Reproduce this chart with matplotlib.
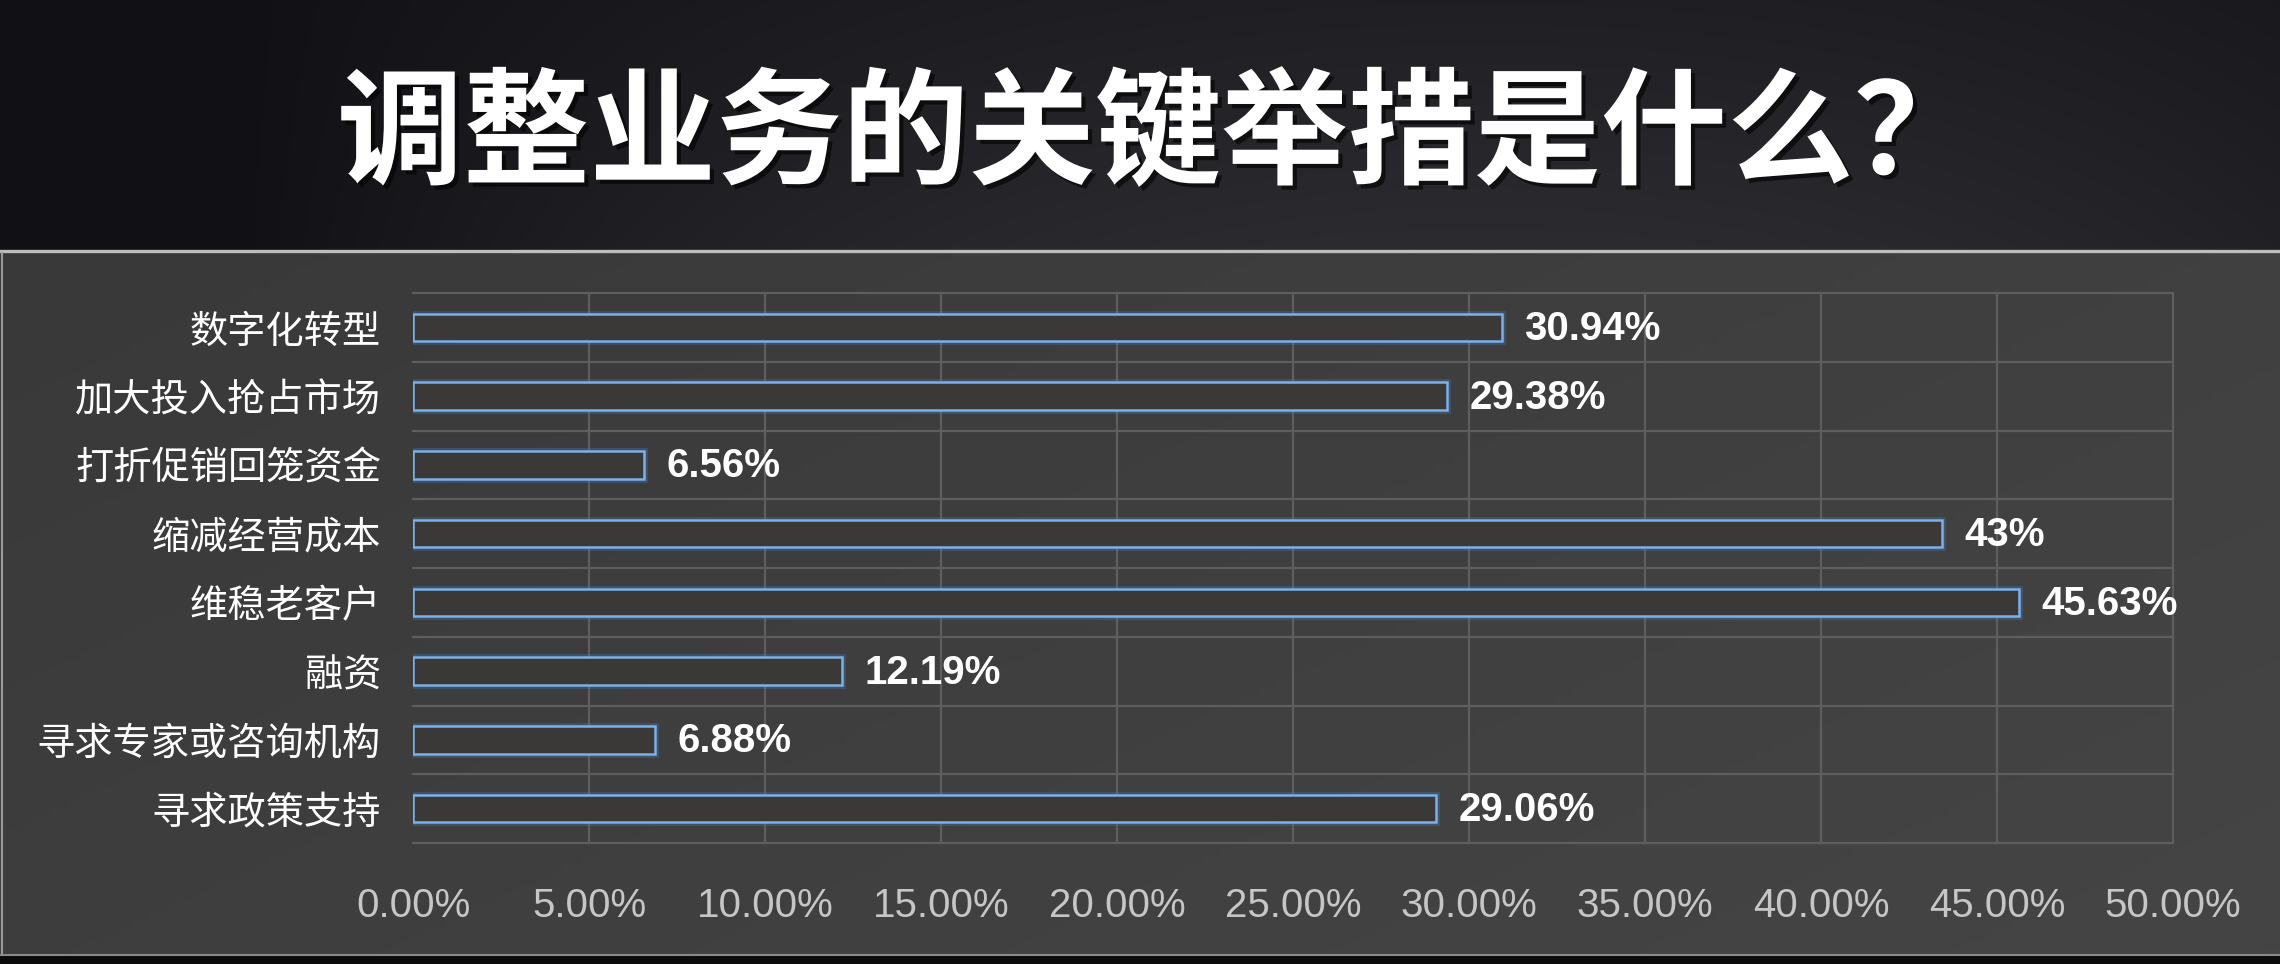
import numpy as np
import matplotlib
matplotlib.use("Agg")
import matplotlib.pyplot as plt
import matplotlib.patheffects as pe
from matplotlib.colors import LinearSegmentedColormap

# --- data ---
title = "调整业务的关键举措是什么？"
categories = ["数字化转型", "加大投入抢占市场", "打折促销回笼资金", "缩减经营成本",
              "维稳老客户", "融资", "寻求专家或咨询机构", "寻求政策支持"]
values = [30.94, 29.38, 6.56, 43.44, 45.63, 12.19, 6.88, 29.06]
value_labels = ["30.94%", "29.38%", "6.56%", "43%", "45.63%", "12.19%", "6.88%", "29.06%"]
x_ticks = [0, 5, 10, 15, 20, 25, 30, 35, 40, 45, 50]
x_tick_labels = [f"{t:.2f}%" for t in x_ticks]

CJK = ["Noto Sans CJK SC", "DejaVu Sans"]
LATIN = ["Liberation Sans", "DejaVu Sans"]

W, H = 2280, 964
fig = plt.figure(figsize=(W / 100, H / 100), dpi=100)
fig.patch.set_facecolor("#0b0b0b")

# --- title band: dark gradient, lighter towards centre-bottom ---
band = fig.add_axes([0, 1 - 250 / H, 1, 250 / H])
band.set_axis_off()
gx = np.linspace(0, 1, 400)
gy = np.linspace(0, 1, 100)
GX, GY = np.meshgrid(gx, gy)
band_cmap = LinearSegmentedColormap.from_list("band", ["#111115", "#2c2c30"])
shade = np.clip(1 - ((GX - 0.65) / 0.55) ** 2, 0, 1) * (0.55 + 0.45 * GY)
band.imshow(shade, cmap=band_cmap, aspect="auto", extent=[0, 1, 0, 1], origin="upper")
band.set_xlim(0, 1)
band.set_ylim(0, 1)

# separator line
fig.add_artist(plt.Line2D([0, 1], [1 - 251 / H, 1 - 251 / H], color="#bdbdbd",
                          lw=2.4, transform=fig.transFigure))

# --- chart panel ---
panel = fig.add_axes([0, 1 - 955 / H, 1, (955 - 253) / H])
panel.set_axis_off()
panel_cmap = LinearSegmentedColormap.from_list("panel", ["#393939", "#454545"])
panel.imshow(0.6 * GX + 0.4 * (1 - GY), cmap=panel_cmap, aspect="auto",
             extent=[0, 1, 0, 1], origin="lower")
panel.set_xlim(0, 1)
panel.set_ylim(0, 1)
fig.add_artist(plt.Line2D([1.5 / W, 1.5 / W], [1 - 955 / H, 1 - 253 / H], color="#9a9a9a",
                          lw=1.5, transform=fig.transFigure))
fig.add_artist(plt.Line2D([0, 1], [1 - 955 / H, 1 - 955 / H], color="#8a8a8a",
                          lw=1.5, transform=fig.transFigure))

fig.text(0.508, 1 - 137 / H, title, ha="center", va="center", color="white",
         fontsize=91, fontweight="bold", family=CJK,
         path_effects=[pe.withSimplePatchShadow(offset=(3, -3), shadow_rgbFace="black", alpha=0.6)])

# --- bar chart ---
ax = fig.add_axes([413 / W, 1 - 843 / H, (2173 - 413) / W, (843 - 293) / H])
ax.patch.set_alpha(0)
y = np.arange(len(categories))

# soft glow under the outlines
ax.barh(y, values, height=0.4, facecolor="none", edgecolor="#3f78b8",
        linewidth=5, alpha=0.35, zorder=2)
ax.barh(y, values, height=0.4, facecolor="#3a3938", edgecolor="#7cb0e6",
        linewidth=1.8, zorder=3)

for yi, v, lab in zip(y, values, value_labels):
    ax.annotate(lab, (v, yi), xytext=(16, -1), textcoords="offset points",
                ha="left", va="center", color="white", fontsize=29,
                fontweight="bold", family=LATIN, zorder=4)

ax.set_xlim(0, 50)
ax.set_ylim(len(categories) - 0.5, -0.5)
ax.set_xticks(x_ticks)
ax.set_xticklabels(x_tick_labels, color="#c6c6c6", fontsize=29, family=LATIN)
ax.set_yticks(y)
ax.set_yticklabels(categories, color="white", fontsize=27.5, family=CJK)
ax.tick_params(axis="x", length=0, pad=32)
ax.tick_params(axis="y", length=0, pad=23)

grid_col = "#5e5e5e"
for t in x_ticks[1:]:
    ax.axvline(t, color=grid_col, lw=1.6, zorder=1, clip_on=False)
for b in np.arange(-0.5, len(categories), 1):
    ax.axhline(b, color=grid_col, lw=1.6, zorder=1, clip_on=False)
for s in ax.spines.values():
    s.set_visible(False)

fig.savefig("out.png", dpi=100, facecolor=fig.get_facecolor())
